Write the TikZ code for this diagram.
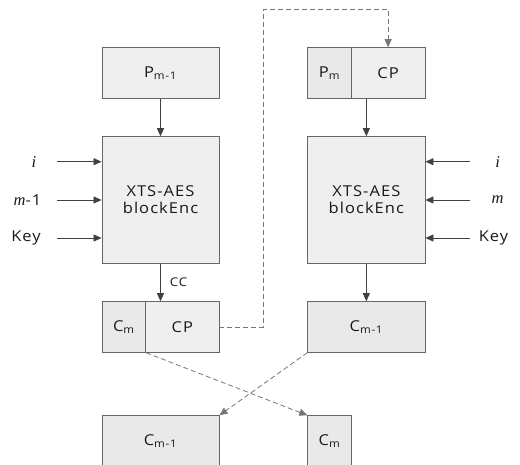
\documentclass[tikz,border=0pt]{standalone}
\usepackage{fontspec}
\setmainfont{Open Sans}[FakeStretch=1.1,LetterSpace=7]
\newfontfamily\varfont{Liberation Serif}[Scale=1.1]
\newcommand{\var}[1]{{\varfont\itshape #1}}
\usetikzlibrary{arrows.meta}
\definecolor{boxfill}{HTML}{EFEFEF}
\definecolor{boxfilldk}{HTML}{E9E9E9}
\definecolor{boxline}{HTML}{666666}
\definecolor{dashline}{HTML}{777777}
\tikzset{
  blk/.style={draw=boxline, fill=boxfill, line width=0.9pt, inner sep=0pt,
    font=\fontsize{15}{17}\selectfont, text=black!90, align=center},
  flow/.style={draw=black!75, line width=0.8pt, -{Triangle[length=8pt,width=7pt]}},
  link/.style={draw=dashline, line width=0.8pt, dash pattern=on 5pt off 3pt,
    -{Triangle[length=8pt,width=7pt]}},
  inlbl/.style={font=\fontsize{15}{17}\selectfont, text=black!90, inner sep=0pt},
}
\begin{document}
\begin{tikzpicture}[x=1pt,y=-1pt]
\useasboundingbox (0,0) rectangle (520,465);
\clip (0,0) rectangle (520,465);

% left encryption chain
\node[blk, minimum width=117pt, minimum height=50.6pt] (pL) at (160.5,73) {P\textsubscript{m-1}};
\node[blk, minimum width=117pt, minimum height=126.6pt] (encL) at (160.5,200) {XTS-AES\\blockEnc};
\node[blk, fill=boxfilldk, minimum width=43.7pt, minimum height=50.6pt] (cmL) at (123.85,327) {C\textsubscript{m}};
\node[blk, minimum width=73.3pt, minimum height=50.6pt] (cpL) at (182.35,327) {CP};
\node[blk, fill=boxfilldk, minimum width=117pt, minimum height=50.6pt] (cmoB) at (160.5,441) {C\textsubscript{m-1}};

% right encryption chain
\node[blk, fill=boxfilldk, minimum width=43.6pt, minimum height=50.6pt] (pmR) at (329.5,73) {P\textsubscript{m}};
\node[blk, minimum width=73.7pt, minimum height=50.6pt] (cpR) at (388.15,73) {CP};
\node[blk, minimum width=117.3pt, minimum height=126.6pt] (encR) at (366.35,200) {XTS-AES\\blockEnc};
\node[blk, fill=boxfilldk, minimum width=117.3pt, minimum height=50.6pt] (cmoR) at (366.35,327) {C\textsubscript{m-1}};
\node[blk, fill=boxfilldk, minimum width=43.6pt, minimum height=50.6pt] (cmB) at (329.5,441) {C\textsubscript{m}};

% solid data flow
\draw[flow] (pL.south) -- (encL.north);
\draw[flow] (encL.south) -- (encL.south |- cpL.north)
  node[midway, right=9pt, font=\fontsize{12}{14}\selectfont, text=black!90, inner sep=0pt] (cc) {CC};
\draw[flow] (cpR.south -| encR.north) -- (encR.north);
\draw[flow] (encR.south) -- (cmoR.north);

% side inputs, left
\node[inlbl] (iL) at (34,161.7) {\var{i}};
\node[inlbl] (mL) at (27.5,200) {\var{m}-1};
\node[inlbl] (kL) at (26,238) {Key};
\coordinate (iLs) at (57,161.7);
\coordinate (mLs) at (57,200);
\coordinate (kLs) at (57,238);
\draw[flow] (iLs) -- (iLs -| encL.west);
\draw[flow] (mLs) -- (mLs -| encL.west);
\draw[flow] (kLs) -- (kLs -| encL.west);

% side inputs, right
\node[inlbl] (iR) at (497.7,161.7) {\var{i}};
\node[inlbl] (mR) at (497.5,200) {\var{m}};
\node[inlbl] (kR) at (493.5,238) {Key};
\coordinate (iRs) at (470,161.7);
\coordinate (mRs) at (470,200);
\coordinate (kRs) at (470,238);
\draw[flow] (iRs) -- (iRs -| encR.east);
\draw[flow] (mRs) -- (mRs -| encR.east);
\draw[flow] (kRs) -- (kRs -| encR.east);

% ciphertext stealing links
\coordinate (loop) at (263.3,9.3);
\draw[link] (cpL.east) -| (loop) -| (cpR.north);
\draw[link] (cmL.south east) -- (cmB.north west);
\draw[link] (cmoR.south west) -- (cmoB.north east);
\end{tikzpicture}
\end{document}
